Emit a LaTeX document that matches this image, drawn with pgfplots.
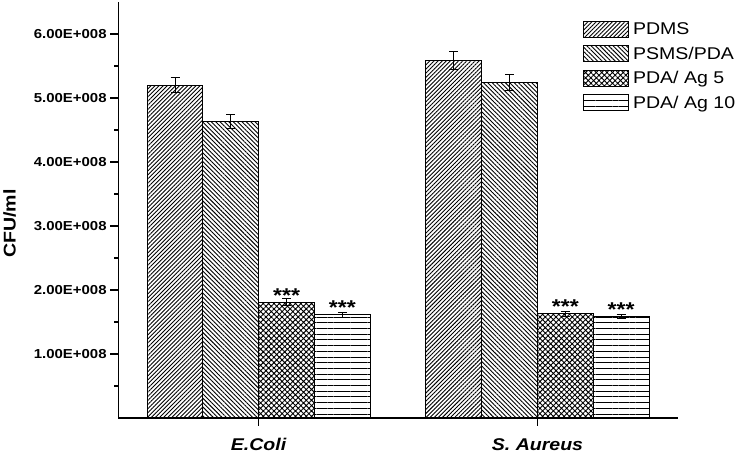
\documentclass[border=0pt]{standalone}
\usepackage{fontspec}
\setmainfont{Liberation Sans}[FakeStretch=1.15]
\usepackage{pgfplots}
\pgfplotsset{compat=1.18}
\usetikzlibrary{patterns.meta}
\begin{document}
\begin{tikzpicture}
\begin{axis}[
  scale only axis,
  width=560pt, height=416pt,
  xmin=-0.504, xmax=1.504,
  ymin=0, ymax=6.5e8,
  scaled y ticks=false,
  axis x line=bottom, axis y line=left,
  axis line style={-, line width=1.3pt},
  xtick={0,1},
  xticklabels={\textbf{\textit{E.Coli}}, \textbf{\textit{S. Aureus}}},
  xticklabel style={font=\fontsize{17}{17}\selectfont, anchor=center, yshift=-18.5pt},
  ytick={1e8,2e8,3e8,4e8,5e8,6e8},
  yticklabels={1.00E+008,2.00E+008,3.00E+008,4.00E+008,5.00E+008,6.00E+008},
  minor ytick={0.5e8,1.5e8,2.5e8,3.5e8,4.5e8,5.5e8},
  yticklabel style={font=\bfseries\fontsize{13}{13}\selectfont, xshift=0pt},
  tick align=outside,
  major tick length=8pt, minor tick length=4pt,
  tick style={line width=1.3pt, black},
  ylabel={\bfseries CFU/ml},
  ylabel style={font=\fontsize{17}{17}\selectfont, at={(axis description cs:-0.1938,0.4675)}, anchor=center},
  ybar, bar width=0.2,
  error bars/y dir=both, error bars/y explicit,
  error bars/error bar style={line width=1pt, black},
  error bars/error mark options={rotate=90, mark size=4.5pt, line width=1pt, black},
  legend style={at={(rel axis cs:0.83,0.955)}, anchor=north west, draw=none, fill=none,
    font=\fontsize{17}{17}\selectfont, row sep=7.5pt, inner sep=0pt,
    nodes={inner sep=1pt}},
  legend cell align=left,
  legend image code/.code={\draw[#1, line width=1pt] (0pt,-8pt) rectangle (45pt,8pt);},
  every node near coord/.append style={font=\bfseries\fontsize{20}{20}\selectfont, anchor=base, inner sep=0pt, yshift=0pt},
]
\addplot[draw=black, line width=1pt, bar shift=-0.3, pattern={Lines[angle=45,distance=2.9pt,line width=0.9pt]}, pattern color=black]
  coordinates {(0,5.20e8) +- (0,0.12e8) (1,5.58e8) +- (0,0.14e8)};
\addlegendentry{\hspace{3pt}PDMS}
\addplot[draw=black, line width=1pt, bar shift=-0.1, pattern={Lines[angle=-45,distance=3.1pt,line width=0.9pt]}, pattern color=black]
  coordinates {(0,4.63e8) +- (0,0.11e8) (1,5.24e8) +- (0,0.13e8)};
\addlegendentry{\hspace{3pt}PSMS/PDA}
\addplot[draw=black, line width=1pt, bar shift=0.1, pattern={Hatch[angle=45,distance=3.8pt,line width=0.9pt]}, pattern color=black, nodes near coords={***}]
  coordinates {(0,1.81e8) +- (0,0.05e8) (1,1.63e8) +- (0,0.04e8)};
\addlegendentry{\hspace{3pt}PDA/ Ag 5}
\addplot[draw=black, line width=1pt, bar shift=0.3, pattern={Lines[angle=0,distance=5.7pt,line width=1pt]}, pattern color=black, nodes near coords={***}]
  coordinates {(0,1.61e8) +- (0,0.035e8) (1,1.59e8) +- (0,0.03e8)};
\addlegendentry{\hspace{3pt}PDA/ Ag 10}
\end{axis}
\path (current axis.south west) ++(-118pt,-36pt) rectangle ++(737pt,454pt);
\end{tikzpicture}
\end{document}
